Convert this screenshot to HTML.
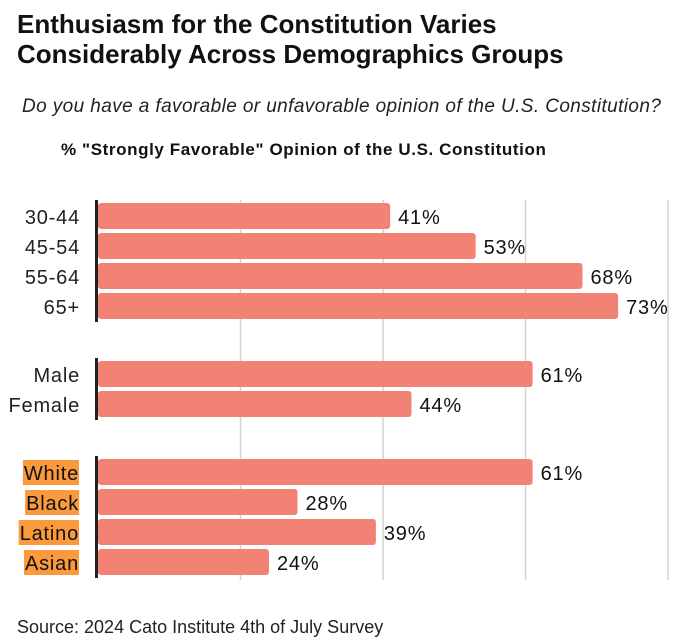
<!DOCTYPE html>
<html><head><meta charset="utf-8"><style>
body{margin:0;background:#fff;font-family:"Liberation Sans",sans-serif;}
#wrap{position:relative;width:680px;height:644px;overflow:hidden;}
.t{position:absolute;left:17px;font-weight:bold;font-size:26px;line-height:30px;color:#111;}
</style></head><body>
<div id="wrap">
<div class="t" style="top:9px">Enthusiasm for the Constitution Varies<br>Considerably Across Demographics Groups</div>
<div style="position:absolute;left:22px;top:96px;font-size:19px;letter-spacing:0.4px;font-style:italic;color:#222">Do you have a favorable or unfavorable opinion of the U.S. Constitution?</div>
<div style="position:absolute;left:61px;top:140px;font-size:17px;letter-spacing:0.6px;font-weight:bold;color:#111">% "Strongly Favorable" Opinion of the U.S. Constitution</div>
<svg id="svg" width="680" height="644" style="position:absolute;left:0;top:0"></svg>
<div style="position:absolute;left:17px;top:617px;font-size:18px;color:#222">Source: 2024 Cato Institute 4th of July Survey</div>
</div>
<script>
const categories=["30-44","45-54","55-64","65+","Male","Female","White","Black","Latino","Asian"];
const values=[41,53,68,73,61,44,61,28,39,24];
const groups=[0,0,0,0,1,1,2,2,2,2];
const highlighted=[false,false,false,false,false,false,true,true,true,true];
const gridTicks=[20,40,60,80];
const NS="http://www.w3.org/2000/svg";
const svg=document.getElementById('svg');
const x0=98,scale=7.125;
const x=v=>x0+v*scale;
const rowY=i=>203+i*30+groups[i]*38;
const FF='Liberation Sans, sans-serif';
function mk(tag,attrs){const e=document.createElementNS(NS,tag);for(const k in attrs)e.setAttribute(k,attrs[k]);svg.appendChild(e);return e;}
gridTicks.forEach(t=>{
 const g=mk('line',{x1:x(t),x2:x(t),y1:200,y2:580,stroke:'#d4d4d4','stroke-width':1.5});
 
 
});
categories.forEach((c,i)=>{
 const y=rowY(i);
 const b=mk('rect',{x:x0,y:y,width:x(values[i])-x0,height:26,rx:3,fill:'#f28274'});
 
 
 const v=mk('text',{x:x(values[i])+8,y:y+21,'font-size':20,'letter-spacing':0.8,fill:'#111','font-family':FF});
 v.textContent=values[i]+'%';
 
 
 const lbl=mk('text',{x:highlighted[i]?79:80,y:y+21,'font-size':20,'letter-spacing':0.8,'text-anchor':'end',fill:highlighted[i]?'#111':'#222','font-family':FF});
 lbl.textContent=c;
 
 
 if(highlighted[i]){
  const bb=lbl.getBBox();
  const h=mk('rect',{x:bb.x-1,y:y+1,width:bb.width+1,height:25,fill:'#fb9a3c'});
  svg.insertBefore(h,lbl);
  
  
 }
});
[0,1,2].forEach(g=>{
 const idx=groups.map((v,i)=>v===g?i:-1).filter(i=>i>=0);
 const a=mk('line',{x1:96.5,x2:96.5,y1:rowY(idx[0])-3,y2:rowY(idx[idx.length-1])+29,stroke:'#222','stroke-width':3});
 
 
});
</script>
</body></html>
